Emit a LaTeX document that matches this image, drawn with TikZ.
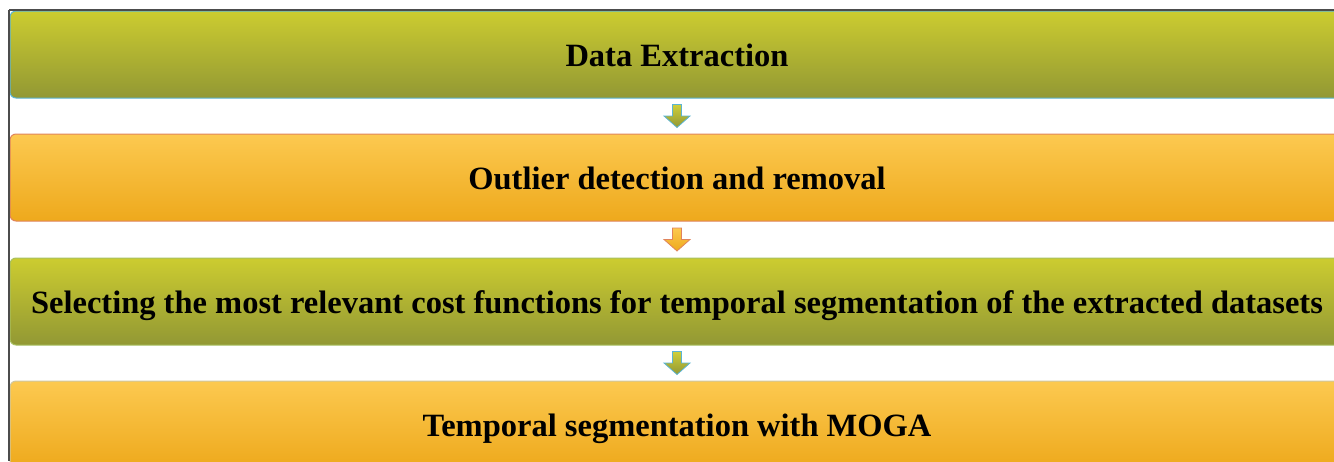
\documentclass[tikz,border=0pt]{standalone}
\usepackage{fontspec}
\setmainfont{Liberation Serif}
\definecolor{olivetop}{HTML}{CCCC30}
\definecolor{olivebot}{HTML}{929834}
\definecolor{ambertop}{HTML}{FCC950}
\definecolor{amberbot}{HTML}{EEA91C}
\definecolor{skyline}{HTML}{5BB4D4}
\definecolor{rustline}{HTML}{E0845C}
\definecolor{leafline}{HTML}{A8C060}
\definecolor{sandline}{HTML}{CFC7A0}
\newcommand{\blockarrow}[2]{%
  \shade[#2] (#1) ++(-4.5,-11.5) -- ++(9,0) -- ++(0,11.5) -- ++(8.5,0) -- ++(-13,11.5) -- ++(-13,-11.5) -- ++(8.5,0) -- cycle;}
\begin{document}
\begin{tikzpicture}[x=1pt,y=-1pt]
			\tikzstyle{stage}=[rectangle,rounded corners=6pt,minimum width=1334pt,minimum height=87pt,inner sep=0pt,line width=1pt,text height=23pt,text depth=0pt,font=\fontsize{32.5}{39}\selectfont\bfseries]
			\tikzstyle{olive}=[stage,top color=olivetop,bottom color=olivebot]
			\tikzstyle{amber}=[stage,top color=ambertop,bottom color=amberbot]
			\tikzstyle{olivearrow}=[top color=olivetop!95!white,bottom color=olivebot,draw=skyline,line width=0.8pt,line join=miter]
			\tikzstyle{amberarrow}=[top color=ambertop,bottom color=amberbot,draw=rustline,line width=0.8pt,line join=miter]
			\useasboundingbox (0,0) rectangle (1334,461);
			\clip (0,0) rectangle (1334,461);
			\node[olive,draw=skyline] (extract) at (677,54.5) {Data Extraction};
			\node[amber,draw=rustline] (outlier) at (677,177.5) {Outlier detection and removal};
			\node[olive,draw=leafline] (select) at (677,301.5) {Selecting the most relevant cost functions for temporal segmentation of the extracted datasets};
			\node[amber,draw=sandline] (moga) at (677,424.5) {Temporal segmentation with MOGA};
			\path (extract.south) -- (outlier.north) coordinate[midway] (gap_1);
			\path (outlier.south) -- (select.north) coordinate[midway] (gap_2);
			\path (select.south) -- (moga.north) coordinate[midway] (gap_3);
			\blockarrow{gap_1}{olivearrow}
			\blockarrow{gap_2}{amberarrow}
			\blockarrow{gap_3}{olivearrow}
			\draw[black!70,line width=1.5pt] (9,10) -- (1334,10) (9,10) -- (9,461);
		\end{tikzpicture}
\end{document}
